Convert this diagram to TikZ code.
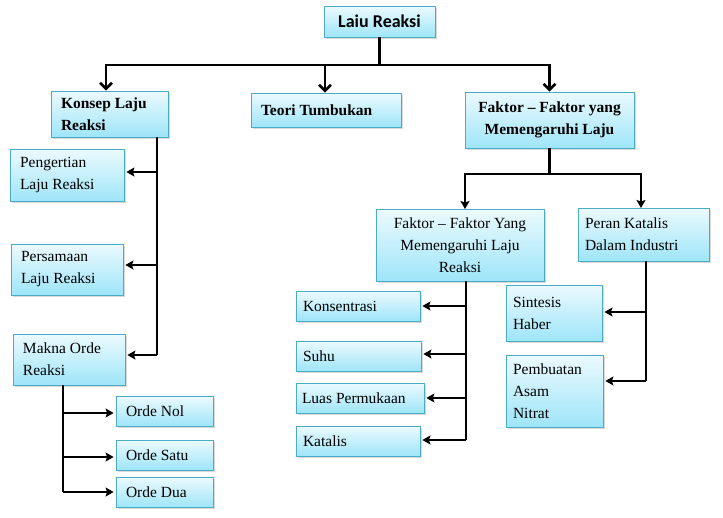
\documentclass[tikz,border=0pt]{standalone}
\usepackage{fontspec}
\setmainfont{Liberation Serif}
\newfontfamily\calibri{Carlito}
\usetikzlibrary{arrows.meta, shadows}
\definecolor{kotakgaris}{RGB}{75, 172, 198}
\definecolor{kotakatas}{RGB}{236, 250, 254}
\definecolor{kotakbawah}{RGB}{158, 229, 249}
\tikzset{
  kotak/.style={rectangle, draw=kotakgaris, line width=0.8pt, top color=kotakatas,
                bottom color=kotakbawah, drop shadow={shadow xshift=1.5pt, shadow yshift=-1.5pt, opacity=0.3},
                text width=#1, align=flush left, inner xsep=10pt, inner ysep=0pt,
                font=\fontsize{15.5}{22}\selectfont},
  kotak/.default=2cm,
  tebal/.style={font=\fontsize{15.5}{22}\selectfont\bfseries},
  garis/.style={line width=2.6pt, color=black},
  panah/.style={garis, -{Stealth[length=8pt, width=9pt, inset=1.5pt]}, shorten >=2pt},
  panahv/.style={garis, -{Straight Barb[length=6pt, width=12pt]}},
}

\begin{document}
\begin{tikzpicture}[x=1pt, y=-1pt]
  \useasboundingbox (0,0) rectangle (723,517);

  % judul
  \node[kotak=91pt, align=flush center, minimum height=31pt, font=\calibri\fontsize{18}{20}\selectfont\bfseries]
       (judul) at (379.5,21.5) {Laiu Reaksi};

  % tingkat pertama
  \node[kotak=97pt, minimum height=46pt, tebal] (konsep) at (109.5,114) {Konsep Laju\\Reaksi};
  \node[kotak=130pt, minimum height=34pt, tebal] (teori) at (326,110) {Teori Tumbukan};
  \node[kotak=161pt, inner xsep=4pt, align=flush center, minimum height=56pt, tebal]
       (faktor) at (549.5,120) {Faktor -- Faktor yang\\Memengaruhi Laju};

  % cabang konsep
  \node[kotak=94pt, minimum height=52pt] (pengertian) at (67,175) {Pengertian\\Laju Reaksi};
  \node[kotak=92pt, minimum height=51pt] (persamaan) at (67,269.5) {Persamaan\\Laju Reaksi};
  \node[kotak=92pt, minimum height=51pt] (makna) at (69,359.5) {Makna Orde\\Reaksi};
  \node[kotak=77pt, minimum height=30pt] (nol) at (164.5,411) {Orde Nol};
  \node[kotak=77pt, minimum height=30pt] (satu) at (164.5,455) {Orde Satu};
  \node[kotak=77pt, minimum height=30pt] (dua) at (164.5,492) {Orde Dua};

  % cabang faktor
  \node[kotak=160pt, inner xsep=4pt, align=flush center, minimum height=72pt] (ffy) at (460,245)
       {Faktor -- Faktor Yang\\Memengaruhi Laju\\Reaksi};
  \node[kotak=117pt, inner xsep=7pt, minimum height=53pt] (peran) at (643.5,234.5) {Peran Katalis\\Dalam Industri};
  \node[kotak=110pt, inner xsep=7pt, minimum height=30pt] (konsentrasi) at (358,306) {Konsentrasi};
  \node[kotak=111pt, inner xsep=7pt, minimum height=30pt] (suhu) at (358.5,356) {Suhu};
  \node[kotak=116pt, inner xsep=6pt, minimum height=30pt] (luas) at (360,398) {Luas Permukaan};
  \node[kotak=110pt, inner xsep=7pt, minimum height=30pt] (katalis) at (358,441) {Katalis};
  \node[kotak=82pt, inner xsep=7pt, minimum height=56pt] (sintesis) at (554,313) {Sintesis\\Haber};
  \node[kotak=83pt, inner xsep=7pt, minimum height=72pt] (pembuatan) at (554.5,391) {Pembuatan\\Asam\\Nitrat};

  % garis dari judul
  \coordinate (cabjudul) at (judul.south |- 0,65);
  \draw[garis] (judul.south) -- (cabjudul);
  \draw[panahv] (cabjudul) -| ([xshift=-3.5pt]konsep.north);
  \draw[panahv] (cabjudul) -| (faktor.north);
  \draw[panahv] ([xshift=-1pt]teori.north |- cabjudul) -- ([xshift=-1pt]teori.north);

  % garis konsep
  \coordinate (kstem) at (157,137);
  \coordinate (kujung) at (157,355);
  \draw[garis] (kstem) -- (kujung);
  \draw[panah] (kujung) -- (kujung -| makna.east);
  \draw[panah] (kstem |- 0,172) -- (pengertian.east |- 0,172);
  \draw[panah] (kstem |- 0,265) -- (persamaan.east |- 0,265);

  % garis makna
  \coordinate (mstem) at (63,385);
  \coordinate (mujung) at (63,492);
  \draw[garis] (mstem) -- (mujung);
  \draw[panah] (mujung) -- (dua.west);
  \draw[panah] (mstem |- 0,413) -- (nol.west |- 0,413);
  \draw[panah] (mstem |- 0,457) -- (satu.west |- 0,457);

  % garis faktor
  \coordinate (cabfaktor) at (faktor.south |- 0,174);
  \draw[garis] (faktor.south) -- (cabfaktor);
  \draw[panah, shorten >=0pt] (cabfaktor) -| (465,209);
  \draw[panah, shorten >=0pt] (cabfaktor) -| (641,208);

  % garis ffy
  \coordinate (fstem) at (466,281);
  \coordinate (fujung) at (466,440);
  \draw[garis] (fstem) -- (fujung);
  \draw[panah] (fujung) -- (katalis.east |- fujung);
  \draw[panah] (fstem |- 0,306) -- (konsentrasi.east |- 0,306);
  \draw[panah] (fstem |- 0,354) -- (suhu.east |- 0,354);
  \draw[panah] (fstem |- 0,398) -- (luas.east |- 0,398);

  % garis peran
  \coordinate (pstem) at (646,261);
  \coordinate (pujung) at (646,381);
  \draw[garis] (pstem) -- (pujung);
  \draw[panah] (pujung) -- (pembuatan.east |- pujung);
  \draw[panah] (pstem |- 0,312) -- (sintesis.east |- 0,312);
\end{tikzpicture}
\end{document}
